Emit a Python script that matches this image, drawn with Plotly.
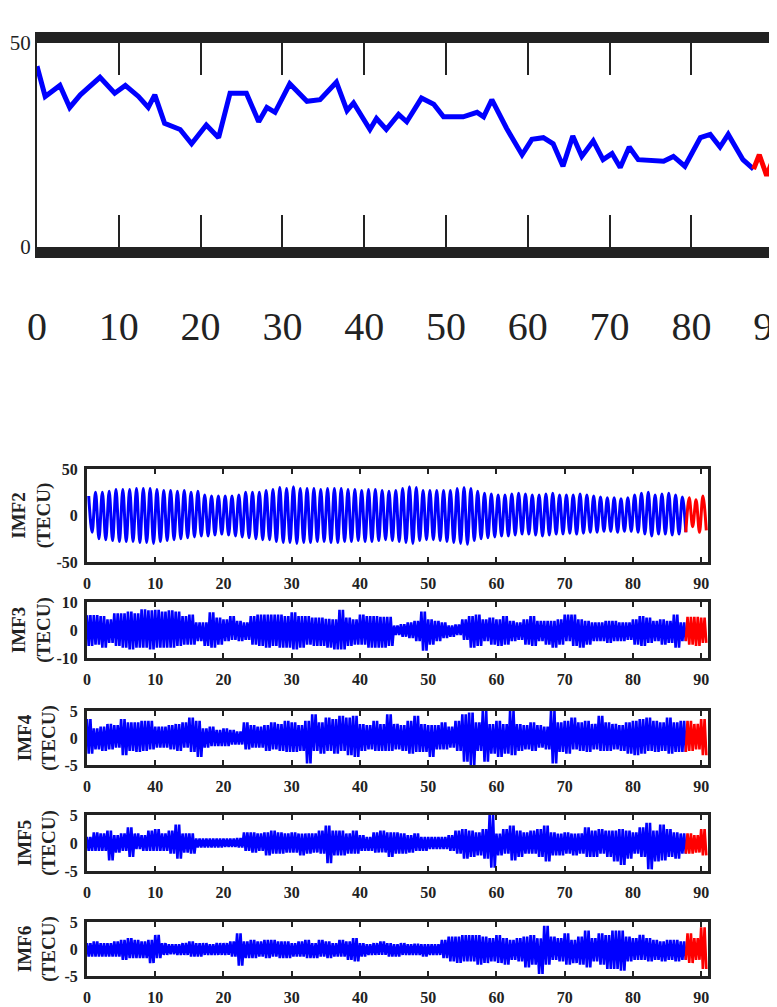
import plotly.graph_objects as go

# ---------------- data ----------------
# Top panel: TEC-like series (blue observed, red predicted)
top_x = [0, 1.0, 2.8, 4.0, 5.3, 6.3, 7.7, 9.5, 10.8, 12.4, 13.6, 14.4, 15.6, 17.5, 18.9,
         20.7, 22.2, 23.6, 25.6, 27.1, 28.1, 29.1, 30.9, 33.0, 34.6, 36.6, 37.9, 38.7,
         40.7, 41.5, 42.7, 44.2, 45.2, 47.0, 48.5, 49.7, 52.1, 53.8, 54.6, 55.6, 57.4,
         59.3, 60.5, 61.9, 63.1, 64.3, 65.5, 66.6, 68.0, 69.2, 70.3, 71.3, 72.4, 73.5,
         76.6, 77.8, 79.2, 81.1, 82.3, 83.5, 84.5, 86.3, 87.6]
top_y = [44.3, 36.9, 39.6, 34.2, 37.3, 39.2, 41.6, 37.7, 39.6, 36.9, 34.2, 37.3, 30.3, 28.8, 25.3,
         29.9, 26.8, 37.7, 37.7, 30.7, 34.2, 33.0, 40.0, 35.7, 36.1, 40.4, 33.4, 35.3,
         28.8, 31.5, 28.8, 32.5, 30.7, 36.5, 35.0, 31.9, 31.9, 33.0, 31.9, 36.1, 29.1,
         22.6, 26.4, 26.8, 25.3, 19.8, 27.2, 22.2, 26.0, 21.4, 22.9, 19.5, 24.5, 21.4,
         21.0, 22.2, 19.8, 26.8, 27.6, 24.5, 27.6, 21.4, 19.1]
top_red_x = [87.6, 88.3, 89.2, 90.4]
top_red_y = [19.1, 22.6, 17.5, 23.7]

# IMF panels: per-day peak (hi) and trough (lo) values, days 0..90 (88..90 = red)
imf2_hi = [21, 25, 25, 26, 28, 28, 28, 29, 29, 29,
           28, 27, 27, 26, 27, 25, 26, 22, 21, 21,
           21, 21, 22, 25, 25, 25, 27, 28, 30, 29,
           31, 29, 29, 29, 28, 29, 29, 29, 28, 28,
           27, 28, 28, 27, 26, 27, 29, 31, 30, 27,
           27, 27, 27, 27, 29, 30, 29, 26, 24, 23,
           22, 22, 23, 24, 23, 22, 22, 23, 24, 22,
           22, 22, 23, 22, 21, 20, 19, 19, 18, 19,
           22, 24, 25, 22, 23, 24, 22, 20,
           19, 17, 21]
imf2_lo = [-18, -25, -26, -27, -28, -28, -28, -29, -29, -30,
           -28, -27, -26, -25, -24, -23, -22, -22, -21, -20,
           -21, -22, -23, -24, -25, -26, -26, -28, -29, -29,
           -30, -29, -29, -28, -28, -29, -29, -28, -28, -27,
           -28, -28, -27, -26, -27, -28, -29, -30, -27, -26,
           -26, -27, -28, -29, -30, -31, -27, -25, -24, -23,
           -22, -22, -21, -20, -20, -21, -22, -21, -20, -20,
           -19, -20, -19, -18, -18, -17, -17, -18, -17, -17,
           -18, -20, -22, -20, -20, -21, -20, -18,
           -12, -18, -16]

imf3_hi = [5.3, 5.3, 5.0, 3.8, 6.0, 6.0, 6.6, 6.0, 7.4, 7.0, 7.2, 6.6, 7.0, 6.6, 5.0, 5.5, 2.7, 2.7,
           6.3, 4.4, 3.8, 5.0, 3.3, 2.7, 5.0, 5.5, 5.5, 5.5, 5.5, 5.0, 6.3, 5.0, 5.0, 4.4, 4.4, 4.0,
           3.8, 7.2, 4.4, 3.8, 5.5, 5.0, 5.0, 4.7, 4.7, 1.6, 2.1, 2.7, 3.3, 6.6, 3.8, 3.3, 2.7, 1.6,
           2.0, 3.8, 5.0, 5.5, 3.8, 4.4, 3.8, 5.0, 3.3, 2.7, 3.8, 5.0, 3.3, 3.3, 3.3, 3.8, 5.5, 5.5,
           3.8, 3.3, 2.7, 2.7, 3.3, 3.3, 2.7, 2.7, 3.8, 5.0, 4.4, 3.3, 3.8, 3.3, 5.5, 2.7,
           4.7, 4.7, 4.4]
imf3_lo = [-5.7, -5.2, -6.3, -4.6, -5.7, -6.3, -6.9, -6.3, -6.3, -6.9, -6.3, -6.3, -6.3, -5.7, -5.2,
           -5.2, -4.0, -5.7, -6.3, -5.2, -4.0, -3.5, -4.0, -3.5, -5.2, -5.7, -6.3, -5.7, -6.3, -6.3,
           -6.9, -6.3, -5.2, -5.7, -5.7, -6.3, -6.9, -6.9, -5.7, -5.2, -5.2, -6.3, -6.3, -6.3, -5.7,
           -1.8, -2.4, -2.9, -4.0, -7.4, -5.2, -4.0, -2.9, -2.4, -1.8, -3.5, -6.3, -5.7, -4.0, -5.2,
           -5.7, -5.2, -4.0, -3.5, -5.2, -5.7, -4.0, -5.2, -6.3, -5.2, -4.0, -5.7, -6.3, -5.2, -4.0,
           -4.0, -4.6, -4.0, -4.0, -3.5, -5.2, -5.7, -4.6, -4.0, -5.2, -4.6, -6.3, -4.0,
           -5.2, -5.7, -4.6]

imf4_hi = [3.5, 1.8, 2.1, 2.6, 2.4, 3.5, 2.9, 2.9, 3.2, 3.2, 2.1, 2.1, 2.4, 2.6, 2.9, 3.8, 3.2, 1.8,
           2.1, 1.5, 1.8, 1.5, 1.2, 2.9, 2.4, 2.1, 2.4, 2.9, 2.6, 3.2, 2.9, 2.4, 3.2, 4.4, 2.9, 3.8,
           3.5, 4.1, 3.8, 4.1, 2.6, 2.4, 3.2, 2.6, 4.4, 2.6, 2.4, 3.2, 4.1, 2.6, 2.4, 2.4, 2.9, 2.1,
           3.2, 4.4, 4.7, 2.9, 5.0, 2.6, 3.2, 2.6, 5.0, 2.6, 2.4, 2.9, 2.4, 2.1, 5.0, 2.9, 3.2, 3.8,
           2.9, 3.2, 2.6, 4.1, 2.9, 2.6, 2.4, 2.9, 3.2, 3.5, 3.8, 3.2, 2.9, 3.8, 2.9, 3.2,
           3.2, 2.6, 3.5]
imf4_lo = [-2.9, -2.1, -2.4, -2.1, -1.8, -3.2, -2.4, -2.6, -2.4, -2.1, -1.8, -1.8, -2.1, -2.4, -1.8,
           -2.6, -3.5, -1.8, -1.5, -1.5, -1.5, -1.2, -1.2, -2.1, -1.8, -1.8, -2.4, -2.1, -2.4, -2.6,
           -2.6, -2.4, -4.7, -2.4, -2.9, -2.4, -2.9, -2.4, -3.2, -3.5, -2.4, -2.1, -2.4, -2.4, -2.4,
           -2.1, -2.4, -2.9, -2.6, -2.6, -3.5, -2.1, -2.1, -1.8, -2.4, -4.4, -5.0, -2.4, -4.4, -2.9,
           -3.5, -2.9, -3.2, -2.4, -2.1, -2.4, -1.8, -2.1, -4.7, -2.6, -2.9, -2.1, -2.4, -2.6, -2.1,
           -2.4, -2.4, -2.1, -2.4, -2.9, -3.2, -2.9, -2.4, -2.6, -2.4, -2.9, -2.6, -2.6,
           -2.4, -2.1, -3.2]

imf5_hi = [1.1, 1.9, 1.7, 2.2, 1.4, 1.7, 2.8, 1.7, 1.4, 2.2, 2.5, 1.7, 2.2, 3.3, 1.7, 1.7, 0.8, 0.8,
           0.8, 0.8, 0.8, 0.8, 0.9, 1.9, 1.9, 1.7, 1.9, 2.2, 1.9, 1.7, 1.9, 1.7, 1.7, 1.7, 2.2, 3.1,
           2.2, 2.2, 1.7, 2.2, 1.4, 1.1, 1.9, 2.2, 1.9, 1.9, 1.7, 1.4, 1.7, 1.1, 1.1, 1.1, 1.1, 1.4,
           2.2, 2.5, 2.2, 1.9, 2.5, 5.0, 1.7, 2.5, 3.1, 2.2, 1.9, 2.2, 2.5, 3.1, 1.9, 1.7, 1.9, 1.7,
           1.7, 2.8, 2.2, 2.5, 2.2, 2.2, 2.5, 2.2, 1.9, 2.8, 3.6, 2.2, 3.3, 2.5, 1.9, 1.7,
           1.7, 1.4, 2.5]
imf5_lo = [-1.4, -1.4, -1.4, -3.1, -1.7, -1.4, -2.5, -1.1, -1.4, -1.4, -1.4, -1.4, -1.9, -2.8, -1.7,
           -1.9, -0.8, -0.8, -0.8, -0.8, -0.7, -0.7, -0.8, -1.4, -1.7, -1.4, -2.2, -1.9, -1.9, -1.7,
           -1.7, -2.2, -1.9, -1.7, -1.9, -3.6, -2.2, -2.2, -1.9, -1.9, -1.4, -1.4, -1.7, -1.7, -2.5,
           -1.9, -1.9, -1.7, -1.4, -1.4, -1.1, -1.1, -1.1, -1.4, -1.9, -2.8, -2.5, -2.2, -2.8, -4.4,
           -2.2, -1.9, -3.1, -2.5, -1.9, -1.9, -2.5, -3.3, -2.2, -2.2, -1.9, -2.2, -1.9, -2.5, -2.5,
           -1.9, -2.5, -3.3, -3.9, -2.8, -1.9, -2.5, -4.7, -3.3, -3.1, -2.5, -2.8, -1.9,
           -1.9, -1.7, -2.2]

imf6_hi = [1.1, 1.4, 1.1, 1.1, 1.4, 1.7, 2.0, 1.7, 1.4, 1.7, 2.6, 1.1, 0.9, 0.9, 1.1, 1.4, 1.1, 1.1,
           0.9, 1.1, 1.1, 1.4, 2.9, 1.4, 1.7, 1.4, 1.7, 1.7, 1.4, 1.4, 1.1, 1.4, 1.7, 1.1, 1.7, 1.4,
           1.1, 1.7, 1.4, 2.0, 1.1, 0.9, 1.1, 1.4, 1.1, 0.9, 1.1, 0.9, 1.0, 0.9, 0.9, 0.9, 1.7, 2.3,
           2.3, 2.6, 2.6, 2.6, 2.3, 2.0, 2.6, 2.0, 1.7, 2.0, 2.3, 2.6, 2.0, 4.3, 2.3, 2.0, 2.9, 1.7,
           2.3, 3.4, 2.0, 2.9, 2.6, 3.4, 3.4, 2.3, 2.0, 2.6, 2.0, 1.7, 1.4, 1.7, 1.7, 1.4,
           2.9, 2.0, 4.0]
imf6_lo = [-1.4, -1.4, -1.4, -1.4, -1.4, -2.0, -1.7, -1.7, -1.7, -2.6, -1.7, -1.1, -1.0, -1.1, -1.1,
           -1.4, -1.4, -1.1, -1.1, -1.1, -1.1, -1.4, -3.1, -1.7, -1.7, -1.4, -1.7, -1.4, -1.7, -1.7,
           -1.4, -1.4, -1.7, -1.7, -1.4, -1.7, -1.4, -1.4, -2.0, -2.3, -1.4, -1.1, -1.1, -1.1, -1.4,
           -1.4, -1.1, -1.1, -1.1, -1.4, -1.1, -1.1, -1.7, -2.3, -2.6, -2.3, -2.3, -2.9, -2.6, -2.3,
           -2.6, -2.9, -2.0, -2.3, -3.4, -2.9, -4.6, -2.9, -2.0, -2.3, -2.9, -2.6, -2.9, -3.4, -2.3,
           -2.9, -3.7, -3.7, -4.0, -2.3, -2.0, -2.0, -2.3, -2.0, -2.3, -2.0, -2.3, -2.0,
           -2.6, -2.0, -3.7]

days = list(range(91))
red_start_day = 88

top_xticks = [0, 10, 20, 30, 40, 50, 60, 70, 80, 90]
imf_xticks = [0, 10, 20, 30, 40, 50, 60, 70, 80, 90]
imf_xticktext = ["0", "10", "20", "30", "40", "50", "60", "70", "80", "90"]
imf4_xticktext = ["0", "40", "20", "30", "40", "50", "60", "70", "80", "90"]

panels = [
    ("IMF2", imf2_hi, imf2_lo, 50, 1, imf_xticktext, (469, 562)),
    ("IMF3", imf3_hi, imf3_lo, 10, 2, imf_xticktext, (602, 658)),
    ("IMF4", imf4_hi, imf4_lo, 5, 2, imf4_xticktext, (711, 765)),
    ("IMF5", imf5_hi, imf5_lo, 5, 2, imf_xticktext, (815, 871)),
    ("IMF6", imf6_hi, imf6_lo, 5, 2, imf_xticktext, (922, 976)),
]

# ---------------- figure ----------------
# the page body has an 8px margin, so the figure is sized to end exactly at the window edge
OFF = 8
W, H = 777 - OFF, 1007 - OFF
BLUE, RED, INK = "#0000FF", "#FF0000", "#222222"
SERIF = "Liberation Serif, Times New Roman, serif"


def fx(px):
    return (px - OFF) / W


def fy(py):
    return 1 - (py - OFF) / H


def zigzag(hi, lo, reps, offset):
    xs, ys = [], []
    for d, h, l in zip(days, hi, lo):
        for k in range(reps):
            xs += [d + (k + offset) / reps, d + (k + offset + 0.5) / reps]
            ys += [h, l]
    return xs, ys


fig = go.Figure()

# top panel
fig.add_trace(go.Scatter(x=top_x, y=top_y, mode="lines", line=dict(color=BLUE, width=5),
                         xaxis="x", yaxis="y", showlegend=False, hoverinfo="skip"))
fig.add_trace(go.Scatter(x=top_red_x, y=top_red_y, mode="lines", line=dict(color=RED, width=5),
                         xaxis="x", yaxis="y", showlegend=False, hoverinfo="skip"))

layout = dict(
    width=W, height=H, margin=dict(l=0, r=0, t=0, b=0, autoexpand=False),
    paper_bgcolor="white", plot_bgcolor="white", showlegend=False,
    xaxis=dict(domain=[fx(37), 1], range=[0, (777 - 37) / 8.18], anchor="y", automargin=False,
               showline=True, linewidth=11, linecolor=INK, mirror="ticks",
               ticks="inside", ticklen=32, tickwidth=2, tickcolor=INK,
               tickvals=top_xticks, ticktext=[str(v) for v in top_xticks],
               tickfont=dict(family=SERIF, size=40, color=INK), ticklabelstandoff=34,
               ticklabeloverflow="allow",
               showgrid=False, zeroline=False),
    yaxis=dict(domain=[fy(247), fy(43)], range=[0, 50], anchor="x", automargin=False,
               showline=True, linewidth=2, linecolor=INK, ticks="",
               tickvals=[0, 50], ticktext=["0", "50"],
               tickfont=dict(family=SERIF, size=21, color=INK), ticklabelstandoff=0,
               ticklabeloverflow="allow",
               showgrid=False, zeroline=False),
)

for i, (name, hi, lo, lim, reps, ticktext, (ptop, pbot)) in enumerate(panels):
    n = i + 2
    xs, ys = zigzag(hi, lo, reps, 0.25 if reps == 1 else 0.0)
    cut = next(j for j, v in enumerate(xs) if v >= red_start_day)
    bx, by = xs[:cut], ys[:cut]
    rx, ry = xs[cut - 1:], ys[cut - 1:]
    shape = "spline" if reps == 1 else "linear"
    lw = 3 if reps == 1 else 2.6
    fig.add_trace(go.Scatter(x=bx, y=by, mode="lines", line=dict(color=BLUE, width=lw, shape=shape),
                             xaxis=f"x{n}", yaxis=f"y{n}", showlegend=False, hoverinfo="skip"))
    fig.add_trace(go.Scatter(x=rx, y=ry, mode="lines", line=dict(color=RED, width=lw, shape=shape),
                             xaxis=f"x{n}", yaxis=f"y{n}", showlegend=False, hoverinfo="skip"))
    layout[f"xaxis{n}"] = dict(
        domain=[fx(87), fx(708)], range=[0, 91], anchor=f"y{n}", automargin=False,
        showline=True, linewidth=3, linecolor=INK, mirror="ticks",
        ticks="inside", ticklen=5, tickwidth=2, tickcolor=INK,
        tickvals=imf_xticks, ticktext=ticktext,
        tickfont=dict(family=SERIF, size=16, color=INK, weight="bold"), ticklabelstandoff=5,
        showgrid=False, zeroline=False)
    layout[f"yaxis{n}"] = dict(
        domain=[fy(pbot), fy(ptop)], range=[-lim, lim], anchor=f"x{n}", automargin=False,
        showline=True, linewidth=3, linecolor=INK, mirror=True, ticks="",
        tickvals=[-lim, 0, lim], ticktext=[str(-lim), "0", str(lim)],
        tickfont=dict(family=SERIF, size=16, color=INK, weight="bold"), ticklabelstandoff=3,
        title=dict(text=f"{name}<br>(TECU)", standoff=4,
                   font=dict(family=SERIF, size=19, color=INK, weight="bold")),
        showgrid=False, zeroline=False)

fig.update_layout(**layout)
fig.write_html("out.html")
